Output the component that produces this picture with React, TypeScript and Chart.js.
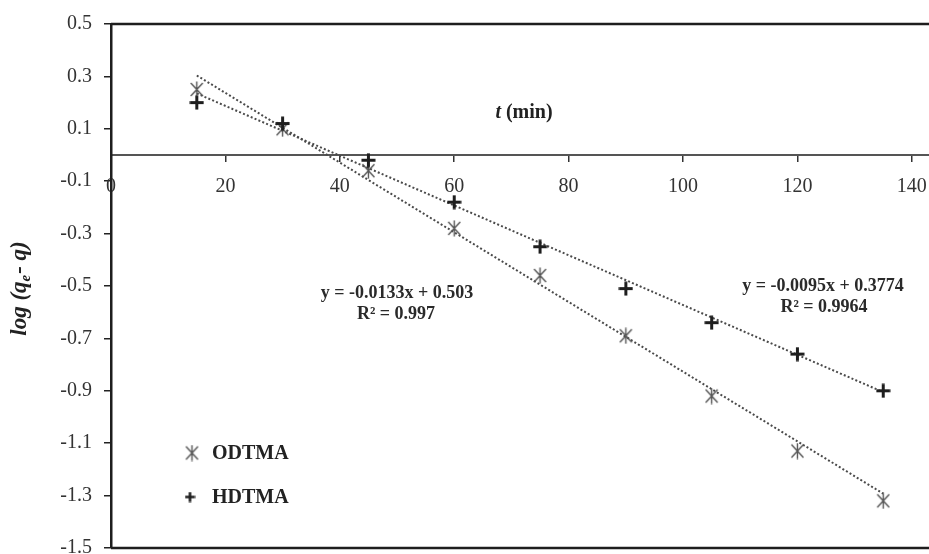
import React, { useEffect, useRef } from "react";
import { Chart, registerables } from "chart.js";

Chart.register(...registerables);

// ---- data ----
const timeMin = [15, 30, 45, 60, 75, 90, 105, 120, 135];
const odtmaValues = [0.25, 0.1, -0.06, -0.28, -0.46, -0.69, -0.92, -1.13, -1.32];
const hdtmaValues = [0.2, 0.12, -0.02, -0.18, -0.35, -0.51, -0.64, -0.76, -0.9];
const odtmaFit = { slope: -0.0133, intercept: 0.503 };
const hdtmaFit = { slope: -0.0095, intercept: 0.3774 };
const odtmaEquation = ["y = -0.0133x + 0.503", "R² = 0.997"];
const hdtmaEquation = ["y = -0.0095x + 0.3774", "R² = 0.9964"];
const seriesNames = ["ODTMA", "HDTMA"];
const xRange = [0, 143];
const xStep = 20;
const yRange = [-1.5, 0.5];
const yStep = 0.2;
const xTitle = ["t", " (min)"];
const yTitle = ["log (q", "e", "- q)"];

const SERIF = "'Liberation Serif', 'Times New Roman', serif";

function makeAsterisk(): HTMLCanvasElement {
  const c = document.createElement("canvas");
  c.width = 15;
  c.height = 17;
  const ctx = c.getContext("2d")!;
  ctx.strokeStyle = "#555";
  ctx.lineWidth = 1.4;
  ctx.beginPath();
  ctx.moveTo(1.5, 2);
  ctx.lineTo(13.5, 15);
  ctx.moveTo(13.5, 2);
  ctx.lineTo(1.5, 15);
  ctx.moveTo(7.5, 0.5);
  ctx.lineTo(7.5, 16.5);
  ctx.stroke();
  return c;
}

function makePlus(size: number, lw: number): HTMLCanvasElement {
  const c = document.createElement("canvas");
  c.width = size;
  c.height = size;
  const ctx = c.getContext("2d")!;
  ctx.strokeStyle = "#1e1e1e";
  ctx.lineWidth = lw;
  const m = size / 2;
  ctx.beginPath();
  ctx.moveTo(0.5, m);
  ctx.lineTo(size - 0.5, m);
  ctx.moveTo(m, 0.5);
  ctx.lineTo(m, size - 0.5);
  ctx.stroke();
  return c;
}

function fitLine(fit: { slope: number; intercept: number }) {
  const x0 = timeMin[0];
  const x1 = timeMin[timeMin.length - 1];
  return [
    { x: x0, y: fit.intercept + fit.slope * x0 },
    { x: x1, y: fit.intercept + fit.slope * x1 },
  ];
}

export default function App() {
  const ref = useRef<HTMLCanvasElement | null>(null);

  useEffect(() => {
    document.body.style.margin = "0";
    document.body.style.overflow = "hidden";
    const canvas = ref.current!;
    const asterisk = makeAsterisk();
    const plus = makePlus(15, 3);
    const plusLegend = makePlus(11, 2.6);

    const framePlugin = {
      id: "frame",
      afterDraw(chart: any) {
        const { ctx, chartArea } = chart;
        ctx.save();
        ctx.strokeStyle = "#1e1e1e";
        ctx.lineWidth = 2.5;
        ctx.beginPath();
        ctx.moveTo(chartArea.left, chartArea.top);
        ctx.lineTo(chartArea.right, chartArea.top);
        ctx.moveTo(chartArea.left, chartArea.bottom);
        ctx.lineTo(chartArea.right, chartArea.bottom);
        ctx.stroke();

        // x title
        ctx.fillStyle = "#222";
        ctx.textBaseline = "middle";
        ctx.textAlign = "left";
        const fIt = `italic bold 20px ${SERIF}`;
        const fB = `bold 20px ${SERIF}`;
        ctx.font = fIt;
        const w1 = ctx.measureText(xTitle[0]).width;
        ctx.font = fB;
        const w2 = ctx.measureText(xTitle[1]).width;
        const cx = 524;
        const cy = 113;
        let sx = cx - (w1 + w2) / 2;
        ctx.font = fIt;
        ctx.fillText(xTitle[0], sx, cy);
        ctx.font = fB;
        ctx.fillText(xTitle[1], sx + w1, cy);

        // y title (rotated)
        ctx.save();
        ctx.translate(19, 289);
        ctx.rotate(-Math.PI / 2);
        const fMain = `italic bold 23px ${SERIF}`;
        const fSub = `italic bold 15px ${SERIF}`;
        ctx.font = fMain;
        const a = ctx.measureText(yTitle[0]).width;
        const c2 = ctx.measureText(yTitle[2]).width;
        ctx.font = fSub;
        const b = ctx.measureText(yTitle[1]).width;
        let tx = -(a + b + c2) / 2;
        ctx.textBaseline = "alphabetic";
        ctx.font = fMain;
        ctx.fillText(yTitle[0], tx, 7);
        ctx.font = fSub;
        ctx.fillText(yTitle[1], tx + a, 11);
        ctx.font = fMain;
        ctx.fillText(yTitle[2], tx + a + b + 1, 7);
        ctx.restore();

        // equations
        ctx.font = `bold 18px ${SERIF}`;
        ctx.textAlign = "center";
        ctx.textBaseline = "middle";
        ctx.fillStyle = "#2a2a2a";
        ctx.fillText(odtmaEquation[0], 397, 293);
        ctx.fillText(odtmaEquation[1], 396, 314);
        ctx.fillText(hdtmaEquation[0], 823, 286);
        ctx.fillText(hdtmaEquation[1], 824, 307);

        // legend
        ctx.drawImage(asterisk, 192 - asterisk.width / 2, 453 - asterisk.height / 2);
        ctx.drawImage(plusLegend, 190 - plusLegend.width / 2, 497 - plusLegend.height / 2);
        ctx.font = `bold 20px ${SERIF}`;
        ctx.textAlign = "left";
        ctx.fillStyle = "#222";
        ctx.fillText(seriesNames[0], 212, 454);
        ctx.fillText(seriesNames[1], 212, 498);
        ctx.restore();
      },
    };

    const chart = new Chart(canvas, {
      type: "scatter",
      data: {
        datasets: [
          {
            label: seriesNames[1],
            data: timeMin.map((x, i) => ({ x, y: hdtmaValues[i] })),
            pointStyle: plus as any,
            pointRadius: 7,
            showLine: false,
          },
          {
            label: seriesNames[0],
            data: timeMin.map((x, i) => ({ x, y: odtmaValues[i] })),
            pointStyle: asterisk as any,
            pointRadius: 7,
            showLine: false,
          },
          {
            label: "fit-" + seriesNames[0],
            data: fitLine(odtmaFit),
            showLine: true,
            pointRadius: 0,
            borderColor: "#4a4a4a",
            borderWidth: 2,
            borderDash: [2, 2.2],
          },
          {
            label: "fit-" + seriesNames[1],
            data: fitLine(hdtmaFit),
            showLine: true,
            pointRadius: 0,
            borderColor: "#4a4a4a",
            borderWidth: 2,
            borderDash: [2, 2.2],
          },
        ],
      },
      options: {
        responsive: false,
        animation: false,
        devicePixelRatio: 1,
        layout: { autoPadding: false, padding: { top: 24, bottom: 6, left: 0, right: 0 } },
        plugins: {
          legend: { display: false },
          tooltip: { enabled: false },
        },
        scales: {
          x: {
            type: "linear",
            position: { y: 0 } as any,
            min: xRange[0],
            max: xRange[1],
            ticks: {
              stepSize: xStep,
              includeBounds: false,
              maxRotation: 0,
              autoSkip: false,
              font: { family: SERIF, size: 20 },
              color: "#333",
              padding: 14,
            },
            grid: {
              drawOnChartArea: false,
              drawTicks: true,
              tickLength: 6,
              color: "#333",
              lineWidth: 1.5,
            },
            border: { color: "#555", width: 2 },
            afterFit: (s: any) => {
              s.paddingLeft = 0;
              s.paddingRight = 0;
              s.paddingTop = 0;
              s.paddingBottom = 0;
              s.height = 0;
            },
          },
          y: {
            type: "linear",
            position: "left",
            min: yRange[0],
            max: yRange[1],
            ticks: {
              stepSize: yStep,
              font: { family: SERIF, size: 20 },
              color: "#333",
              padding: 12,
              callback: (v: any) => Number(v).toFixed(1),
            },
            grid: {
              drawOnChartArea: false,
              drawTicks: true,
              tickLength: 7,
              color: "#222",
              lineWidth: 1.5,
            },
            border: { color: "#1e1e1e", width: 2.5 },
            afterFit: (s: any) => {
              s.width = 111;
              s.paddingTop = 0;
              s.paddingBottom = 0;
            },
          },
        },
      },
      plugins: [framePlugin],
    });
    return () => chart.destroy();
  }, []);

  return (
    <div style={{ width: 929, height: 554, background: "#fff", overflow: "hidden" }}>
      <canvas ref={ref} width={929} height={554} style={{ display: "block" }} />
    </div>
  );
}
